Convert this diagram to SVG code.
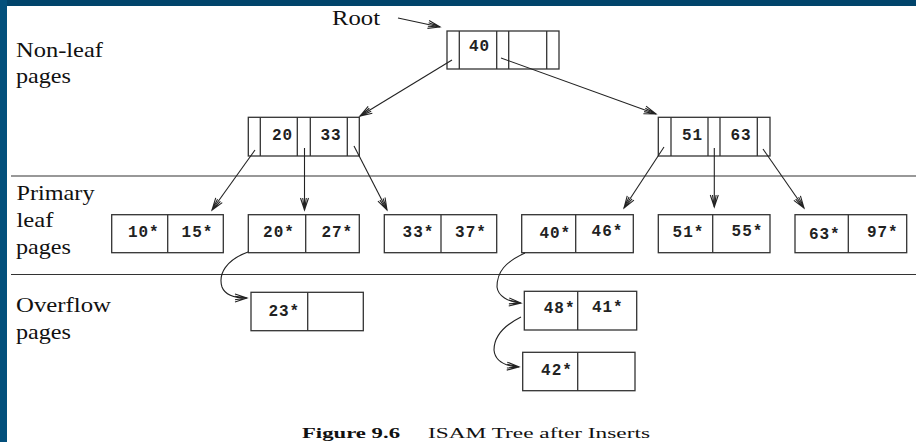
<svg xmlns="http://www.w3.org/2000/svg" width="916" height="442" viewBox="0 0 916 442">
<defs>
<style>
.lbl{font-family:"Liberation Serif","Times New Roman",serif;font-size:21px;fill:#111}
.cap{font-family:"Liberation Serif","Times New Roman",serif;font-size:15px;fill:#111}
.k{font-family:"Liberation Mono","Courier New",monospace;font-size:16px;font-weight:bold;fill:#222;text-anchor:middle;letter-spacing:1px}
.box{fill:#fff;stroke:#333;stroke-width:1.3}
.div{stroke:#333;stroke-width:1.3}
.sep{stroke:#333;stroke-width:1.2}
.con{fill:none;stroke:#222;stroke-width:1.1;marker-end:url(#ah)}
</style>
<marker id="ah" markerUnits="userSpaceOnUse" markerWidth="16" markerHeight="12" viewBox="-13 -6 14 12" refX="0" refY="0" orient="auto" overflow="visible">
<path d="M-12,-4 L0,0 L-12,4 M-12,-1.8 L0,0 L-12,1.8" fill="none" stroke="#222" stroke-width="1.1"/>
</marker>
</defs>
<rect x="0" y="0" width="916" height="442" fill="#fff"/>
<rect x="0" y="0" width="916" height="6" fill="#01446b"/>
<rect x="0" y="0" width="7" height="442" fill="#03507c"/>

<g id="labels">
<text class="lbl" x="16" y="57" textLength="87" lengthAdjust="spacingAndGlyphs">Non-leaf</text>
<text class="lbl" x="16" y="83" textLength="55" lengthAdjust="spacingAndGlyphs">pages</text>
<text class="lbl" x="16.5" y="200" textLength="78" lengthAdjust="spacingAndGlyphs">Primary</text>
<text class="lbl" x="16.5" y="227" textLength="37" lengthAdjust="spacingAndGlyphs">leaf</text>
<text class="lbl" x="16" y="254" textLength="55" lengthAdjust="spacingAndGlyphs">pages</text>
<text class="lbl" x="16" y="312" textLength="95" lengthAdjust="spacingAndGlyphs">Overflow</text>
<text class="lbl" x="16" y="339" textLength="55" lengthAdjust="spacingAndGlyphs">pages</text>
<text class="lbl" x="332" y="25" textLength="48" lengthAdjust="spacingAndGlyphs">Root</text>
<text class="cap" x="302" y="438" font-weight="bold" textLength="98" lengthAdjust="spacingAndGlyphs">Figure 9.6</text>
<text class="cap" x="428" y="438" textLength="222" lengthAdjust="spacingAndGlyphs">ISAM Tree after Inserts</text>
</g>

<g id="separators">
<line class="sep" x1="11" y1="176" x2="916" y2="176"/>
<line class="sep" x1="11" y1="274.5" x2="916" y2="274.5"/>
</g>

<g id="root">
<rect class="box" x="447" y="31" width="112" height="38"/>
<line class="div" x1="459.3" y1="31" x2="459.3" y2="69"/>
<line class="div" x1="496.7" y1="31" x2="496.7" y2="69"/>
<line class="div" x1="508.7" y1="31" x2="508.7" y2="69"/>
<line class="div" x1="546.7" y1="31" x2="546.7" y2="69"/>
<text class="k" x="479.5" y="50.5">40</text>
</g>

<g id="n2033">
<rect class="box" x="248.3" y="117.3" width="111" height="38.7"/>
<line class="div" x1="260.3" y1="117.3" x2="260.3" y2="156"/>
<line class="div" x1="297.3" y1="117.3" x2="297.3" y2="156"/>
<line class="div" x1="310.3" y1="117.3" x2="310.3" y2="156"/>
<line class="div" x1="347.3" y1="117.3" x2="347.3" y2="156"/>
<text class="k" x="282.5" y="139.5">20</text>
<text class="k" x="331" y="139.5">33</text>
</g>

<g id="n5163">
<rect class="box" x="658.3" y="117.3" width="111.7" height="38.7"/>
<line class="div" x1="671" y1="117.3" x2="671" y2="156"/>
<line class="div" x1="708" y1="117.3" x2="708" y2="156"/>
<line class="div" x1="720" y1="117.3" x2="720" y2="156"/>
<line class="div" x1="757.3" y1="117.3" x2="757.3" y2="156"/>
<text class="k" x="692.5" y="139.5">51</text>
<text class="k" x="741" y="139.5">63</text>
</g>

<g id="leaf1">
<rect class="box" x="111.7" y="214.7" width="111.6" height="38"/>
<line class="div" x1="167.7" y1="214.7" x2="167.7" y2="252.7"/>
<text class="k" x="143.8" y="237">10*</text>
<text class="k" x="197.5" y="237">15*</text>
</g>
<g id="leaf2">
<rect class="box" x="248.3" y="214.7" width="111" height="38"/>
<line class="div" x1="305.7" y1="214.7" x2="305.7" y2="252.7"/>
<text class="k" x="279" y="237">20*</text>
<text class="k" x="337.3" y="237">27*</text>
</g>
<g id="leaf3">
<rect class="box" x="384.3" y="214.7" width="112.4" height="38"/>
<line class="div" x1="441" y1="214.7" x2="441" y2="252.7"/>
<text class="k" x="418.5" y="237">33*</text>
<text class="k" x="471" y="237">37*</text>
</g>
<g id="leaf4">
<rect class="box" x="521.7" y="214.7" width="111.6" height="38"/>
<line class="div" x1="575.7" y1="214.7" x2="575.7" y2="252.7"/>
<text class="k" x="555.3" y="238">40*</text>
<text class="k" x="607.5" y="235.5">46*</text>
</g>
<g id="leaf5">
<rect class="box" x="658.3" y="214.7" width="111.7" height="38"/>
<line class="div" x1="712.7" y1="214.7" x2="712.7" y2="252.7"/>
<text class="k" x="688.5" y="237">51*</text>
<text class="k" x="747.5" y="235.5">55*</text>
</g>
<g id="leaf6">
<rect class="box" x="795" y="214.7" width="111.7" height="38"/>
<line class="div" x1="848.3" y1="214.7" x2="848.3" y2="252.7"/>
<text class="k" x="824.8" y="238.5">63*</text>
<text class="k" x="882.8" y="237">97*</text>
</g>

<g id="ovf23">
<rect class="box" x="251" y="292.3" width="112.3" height="38.4"/>
<line class="div" x1="307.7" y1="292.3" x2="307.7" y2="330.7"/>
<text class="k" x="284.3" y="315.5">23*</text>
</g>
<g id="ovf4841">
<rect class="box" x="524.3" y="291.3" width="112.4" height="38.7"/>
<line class="div" x1="577.7" y1="291.3" x2="577.7" y2="330"/>
<text class="k" x="559.6" y="312.8">48*</text>
<text class="k" x="607.8" y="311.5">41*</text>
</g>
<g id="ovf42">
<rect class="box" x="522.7" y="352.3" width="112.3" height="38.4"/>
<line class="div" x1="577.7" y1="352.3" x2="577.7" y2="390.7"/>
<text class="k" x="557" y="374.8">42*</text>
</g>

<g id="connectors">
<path class="con" d="M398,18 L440,27"/>
<path class="con" d="M452,60 L360,116"/>
<path class="con" d="M501,58 L656,114"/>
<path class="con" d="M255,150 L212,210"/>
<path class="con" d="M304.5,148 L304.5,210"/>
<path class="con" d="M354,146 L387,210"/>
<path class="con" d="M664,147 L624,208"/>
<path class="con" d="M714.3,148 L714.3,207"/>
<path class="con" d="M763,149 L804,208"/>
<path class="con" d="M248,252 C226,260 218,274 222,287 C225,295 236,298 247,298"/>
<path class="con" d="M525,253 C505,262 497,272 497,287 C498,296 508,302 521,303"/>
<path class="con" d="M521,317 C503,326 494,336 494,350 C495,361 505,366 519,367"/>
</g>
</svg>
